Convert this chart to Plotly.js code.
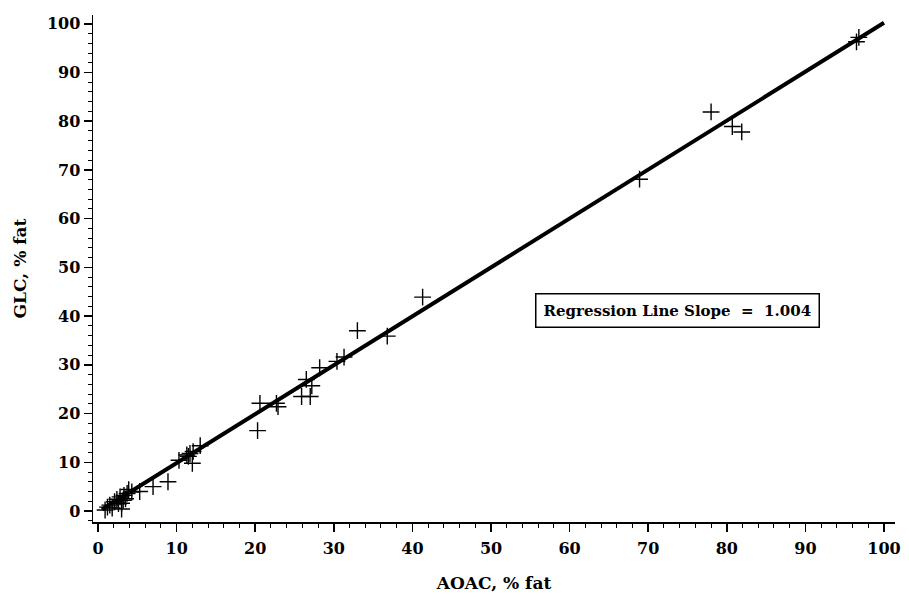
<!DOCTYPE html>
<html>
<head>
<meta charset="utf-8">
<script src="https://cdn.plot.ly/plotly-3.0.1.min.js"></script>
<style>html,body{margin:0;padding:0;background:#fff;}#chart{width:909px;height:602px;}</style>
</head>
<body>
<div id="chart"></div>
<script>
// AOAC (% fat) vs GLC (% fat) sample values
const aoac = [0.9, 1.2, 1.5, 1.8, 2.1, 2.4, 2.6, 2.8, 3.0, 3.0, 3.2, 3.3, 3.5, 3.7, 3.9, 4.3, 5.3, 7.0, 8.9,
  10.3, 11.3, 11.5, 11.7, 12.0, 12.1, 13.0,
  20.3, 20.6, 22.7, 22.9, 25.9, 27.0, 26.5, 27.2, 28.2, 30.4, 31.3, 33.0, 36.8, 41.3,
  68.9, 78.0, 80.7, 81.9, 96.5, 96.8];
const glc = [0.2, 0.8, 1.2, 0.6, 1.9, 2.4, 1.5, 2.9, 0.4, 1.6, 2.2, 3.2, 2.5, 3.6, 4.4, 3.9, 4.0, 5.0, 6.0,
  10.4, 11.5, 11.2, 11.8, 9.8, 12.2, 13.4,
  16.5, 22.1, 22.1, 21.4, 23.5, 23.5, 27.0, 25.7, 29.4, 30.7, 31.6, 37.0, 35.9, 43.9,
  68.1, 81.9, 78.9, 77.8, 96.3, 97.2];
// regression line
const regSlope = 1.004;
const regIntercept = -0.2;
const regX = [0.5, 100];
const regY = regX.map(v => regSlope * v + regIntercept);
const tickVals = [0, 10, 20, 30, 40, 50, 60, 70, 80, 90, 100];
const tickText = tickVals.map(String);
const xTitle = 'AOAC, % fat';
const yTitle = 'GLC, % fat';
const boxText = 'Regression Line Slope  =  1.004';

const tickFont = {family: 'DejaVu Serif', size: 16, color: '#000', weight: 'bold'};
const titleFont = {family: 'DejaVu Serif', size: 17, color: '#000', weight: 'bold'};

const traces = [
  {x: regX, y: regY, mode: 'lines', line: {color: '#000', width: 4}, hoverinfo: 'skip', showlegend: false},
  {x: aoac, y: glc, mode: 'markers', showlegend: false,
   marker: {symbol: 'cross-thin-open', size: 12, color: '#000', line: {color: '#000', width: 1.4}}}
];

const axisCommon = {
  showgrid: false, zeroline: false, showline: true, linecolor: '#000', linewidth: 1.5,
  ticks: 'outside', ticklen: 8, tickwidth: 1.5, tickcolor: '#000',
  tickmode: 'array', tickvals: tickVals, ticktext: tickText, tickfont: tickFont,
  minor: {ticks: 'outside', ticklen: 4, tickwidth: 1, tickcolor: '#000', dtick: 2, showgrid: false},
  mirror: false
};

const layout = {
  width: 909, height: 602,
  margin: {l: 93, r: 14, t: 15, b: 80},
  paper_bgcolor: '#fff', plot_bgcolor: '#fff',
  xaxis: Object.assign({}, axisCommon, {range: [-0.64, 101.4], ticklabelstandoff: 3,
    title: {text: xTitle, font: titleFont, standoff: 20}}),
  yaxis: Object.assign({}, axisCommon, {range: [-2.26, 101.8],
    title: {text: yTitle, font: titleFont, standoff: 16}}),
  annotations: [{
    x: 73.7, y: 41.1, xref: 'x', yref: 'y', text: boxText, showarrow: false,
    font: {family: 'DejaVu Serif', size: 15, color: '#000', weight: 'bold'},
    bordercolor: '#000', borderwidth: 1.5, borderpad: 7, bgcolor: '#fff'
  }]
};

Plotly.newPlot('chart', traces, layout, {staticPlot: true, displayModeBar: false});
</script>
</body>
</html>
